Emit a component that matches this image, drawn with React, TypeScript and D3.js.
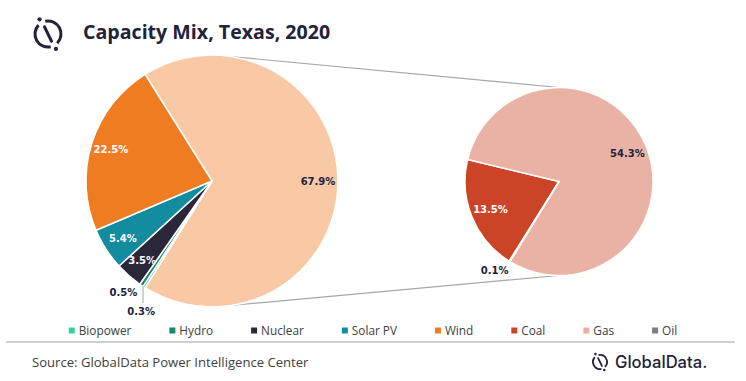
import React, { useMemo } from 'react';
import * as d3 from 'd3';

const W = 746;
const H = 381;

// ---- data ----
const mainCategories = ['Biopower', 'Hydro', 'Nuclear', 'Solar PV', 'Wind'];
const mainValues = [0.3, 0.5, 3.5, 5.4, 22.5];
const subCategories = ['Coal', 'Gas', 'Oil'];
const subValues = [13.5, 54.3, 0.1];
const legendCategories = ['Biopower', 'Hydro', 'Nuclear', 'Solar PV', 'Wind', 'Coal', 'Gas', 'Oil'];
const titleText = 'Capacity Mix, Texas, 2020';
const sourceText = 'Source: GlobalData Power Intelligence Center';
const brandText = 'GlobalData.';

// ---- styles ----
const COLORS: Record<string, string> = {
  Biopower: '#2fd39b',
  Hydro: '#17866a',
  Nuclear: '#2a2739',
  'Solar PV': '#128c9e',
  Wind: '#f07c22',
  Coal: '#cc4427',
  Gas: '#eab2a4',
  Oil: '#7f7f7f',
  Other: '#f9c9a5',
};
const WHITE_LABELS = new Set(['Wind', 'Solar PV', 'Nuclear', 'Coal']);
const OUTSIDE: Record<string, { dx: number; dy: number; leader?: boolean }> = {
  Biopower: { dx: -3, dy: 24, leader: true },
  Hydro: { dx: -18, dy: 7 },
  Oil: { dx: -15, dy: 9 },
};
const DARK = '#22223a';
const LABEL_FONT = '"DejaVu Sans", Verdana, sans-serif';
const UI_FONT = '"Open Sans", "Noto Sans", sans-serif';

const main = { cx: 212, cy: 181, r: 126 };
const sub = { cx: 559, cy: 181.5, r: 94 };
const subStartDeg = 212;
const connectorDeg = 9.5;

function polar(c: { cx: number; cy: number }, a: number, r: number): [number, number] {
  return [c.cx + r * Math.sin(a), c.cy - r * Math.cos(a)];
}

function Logo({ cx, cy, r, sw }: { cx: number; cy: number; r: number; sw: number }) {
  const rad = (d: number) => (d * Math.PI) / 180;
  const arc = d3.arc<any>();
  const a1 = arc({ innerRadius: r, outerRadius: r, startAngle: rad(-12), endAngle: rad(135) } as any) || '';
  const a2 = arc({ innerRadius: r, outerRadius: r, startAngle: rad(168), endAngle: rad(313) } as any) || '';
  const p1 = polar({ cx: 0, cy: 0 }, rad(334), r * 0.62);
  const p2 = polar({ cx: 0, cy: 0 }, rad(154), r * 0.62);
  const d1 = polar({ cx: 0, cy: 0 }, rad(330), r * 1.3);
  const d2 = polar({ cx: 0, cy: 0 }, rad(152), r * 1.3);
  return (
    <g transform={`translate(${cx},${cy})`}>
      <path d={a1} fill="none" stroke={DARK} strokeWidth={sw} strokeLinecap="round" />
      <path d={a2} fill="none" stroke={DARK} strokeWidth={sw} strokeLinecap="round" />
      <line x1={p1[0]} y1={p1[1]} x2={p2[0]} y2={p2[1]} stroke={DARK} strokeWidth={sw} strokeLinecap="round" />
      <circle cx={d1[0]} cy={d1[1]} r={sw * 0.7} fill={DARK} />
      <circle cx={d2[0]} cy={d2[1]} r={sw * 0.7} fill={DARK} />
    </g>
  );
}

export default function App() {
  const otherTotal = d3.sum(subValues);
  const mainData = [
    { name: 'Other', value: otherTotal },
    ...mainCategories.map((c, i) => ({ name: c, value: mainValues[i] })),
  ];
  const total = d3.sum(mainData, (d) => d.value);
  const start = Math.PI / 2 - (otherTotal / total) * Math.PI;
  const mainArcs = d3
    .pie<any>()
    .sort(null)
    .value((d: any) => d.value)
    .startAngle(start)
    .endAngle(start + 2 * Math.PI)(mainData);

  const subData = subCategories.map((c, i) => ({ name: c, value: subValues[i] }));
  const s0 = (subStartDeg * Math.PI) / 180;
  const subArcs = d3
    .pie<any>()
    .sort(null)
    .value((d: any) => d.value)
    .startAngle(s0)
    .endAngle(s0 + 2 * Math.PI)(subData);

  const mainArc = d3.arc<any>().innerRadius(0).outerRadius(main.r);
  const subArc = d3.arc<any>().innerRadius(0).outerRadius(sub.r);

  const legendFontSize = 11.8;
  const legendWidths = useMemo(() => {
    const ctx = document.createElement('canvas').getContext('2d')!;
    ctx.font = `${legendFontSize}px ${UI_FONT}`;
    return legendCategories.map((c) => ctx.measureText(c).width);
  }, []);
  const marker = 6;
  const markerGap = 4;
  const itemGap = 38;
  const itemW = legendWidths.map((w) => marker + markerGap + w);
  const legendTotal = d3.sum(itemW) + itemGap * (itemW.length - 1);
  let lx = W / 2 - legendTotal / 2;
  const legendX = itemW.map((w) => {
    const x = lx;
    lx += w + itemGap;
    return x;
  });
  const legendY = 330.5;

  const ca = (connectorDeg * Math.PI) / 180;
  const t1 = polar(main, ca, main.r);
  const t2 = polar(sub, 0, sub.r);
  const b1 = polar(main, Math.PI - ca, main.r);
  const b2 = polar(sub, Math.PI, sub.r);

  const fmt = (v: number) => `${v.toFixed(1)}%`;

  const renderLabel = (a: any, c: { cx: number; cy: number; r: number }, key: string) => {
    const name = a.data.name;
    const mid = (a.startAngle + a.endAngle) / 2;
    const text = fmt(a.data.value);
    if (OUTSIDE[name]) {
      const o = OUTSIDE[name];
      const [px, py] = polar(c, mid, c.r);
      const x = px + o.dx;
      const y = py + o.dy;
      return (
        <g key={key}>
          {o.leader && (
            <line x1={px - 1} y1={py - 1} x2={px - 1} y2={y - 8} stroke="#a6a6a6" strokeWidth={1} />
          )}
          <text x={x} y={y} dy="0.35em" textAnchor="middle" fontFamily={LABEL_FONT} fontWeight="bold" fontSize={10} fill={DARK}>
            {text}
          </text>
        </g>
      );
    }
    const [x, y] = polar(c, mid, c.r - 20);
    return (
      <text key={key} x={x} y={y} dy="0.35em" textAnchor="middle" fontFamily={LABEL_FONT} fontWeight="bold" fontSize={10}
        fill={WHITE_LABELS.has(name) ? '#ffffff' : DARK}>
        {text}
      </text>
    );
  };

  return (
    <div style={{ position: 'absolute', left: 0, top: 0 }}>
      <svg width={W} height={H} style={{ display: 'block', background: '#fff' }}>
        <rect width={W} height={H} fill="#fff" />
        <Logo cx={48} cy={34} r={13} sw={3} />
        <text x={83} y={39} fontFamily={UI_FONT} fontWeight="bold" fontSize={19.6} fill={DARK}>
          {titleText}
        </text>

        <line x1={t1[0]} y1={t1[1]} x2={t2[0]} y2={t2[1]} stroke="#a6a6a6" strokeWidth={1.2} />
        <line x1={b1[0]} y1={b1[1]} x2={b2[0]} y2={b2[1]} stroke="#a6a6a6" strokeWidth={1.2} />

        <g transform={`translate(${main.cx},${main.cy})`}>
          {mainArcs.map((a, i) => (
            <path key={i} d={mainArc(a) || ''} fill={COLORS[a.data.name]} stroke="#fff" strokeWidth={1.5} strokeLinejoin="round" />
          ))}
        </g>
        <g transform={`translate(${sub.cx},${sub.cy})`}>
          {subArcs.map((a, i) => (
            <path key={i} d={subArc(a) || ''} fill={COLORS[a.data.name]} stroke="#fff" strokeWidth={1.5} strokeLinejoin="round" />
          ))}
        </g>
        {mainArcs.map((a, i) => renderLabel(a, main, 'm' + i))}
        {subArcs.map((a, i) => renderLabel(a, sub, 's' + i))}

        {legendCategories.map((c, i) => (
          <g key={c}>
            <rect x={legendX[i]} y={legendY - marker / 2} width={marker} height={marker} fill={COLORS[c]} />
            <text x={legendX[i] + marker + markerGap} y={legendY} dy="0.35em" fontFamily={UI_FONT} fontSize={legendFontSize} fill="#404040">
              {c}
            </text>
          </g>
        ))}

        <line x1={6} y1={342} x2={735} y2={342} stroke="#bfbfbf" strokeWidth={1.5} />
        <text x={32} y={362} dy="0.35em" fontFamily={UI_FONT} fontSize={13.1} fill="#404040">
          {sourceText}
        </text>
        <Logo cx={600} cy={362} r={7} sw={1.8} />
        <text x={615} y={362} dy="0.35em" fontFamily='Inter, "Open Sans", sans-serif' fontWeight={500} fontSize={16.6} fill={DARK}>
          {brandText}
        </text>
      </svg>
    </div>
  );
}
